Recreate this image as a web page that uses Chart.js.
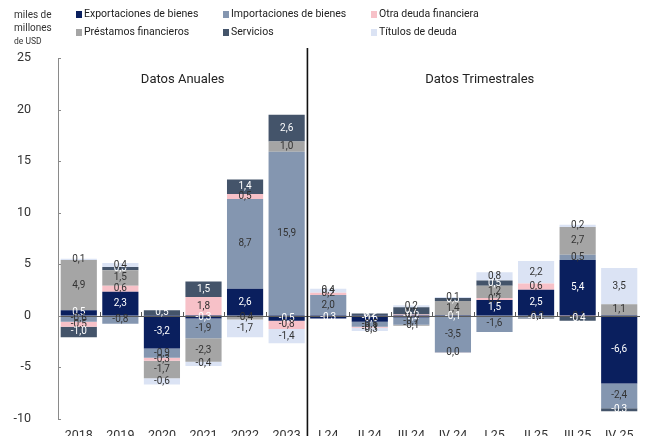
<!DOCTYPE html>
<html><head><meta charset="utf-8">
<script src="https://cdn.jsdelivr.net/npm/chart.js@4.4.1/dist/chart.umd.min.js"></script>
<style>
html,body{margin:0;padding:0;background:#fff;overflow:hidden;width:646px;height:436px;font-family:Roboto,sans-serif;}
#wrap{position:absolute;left:0;top:0;width:646px;height:453px;}
#ytitle{position:absolute;left:14px;top:8px;color:#333;font-size:10px;line-height:13px;}
#ytitle .s{font-size:8.5px;}
.li{position:absolute;font-size:10.5px;color:#222;white-space:nowrap;line-height:12px;}
.li i{position:absolute;left:-8px;top:3px;width:6px;height:7px;}
</style></head><body>
<div id="wrap"><canvas id="c" width="646" height="453"></canvas></div>
<div id="ytitle">miles de<br>millones<br><span class="s">de USD</span></div>
<div id="legend"></div>
<script>
const categories = ['2018','2019','2020','2021','2022','2023','I 24','II 24','III 24','IV 24','I 25','II 25','III 25','IV 25'];
const seriesNames = ['Exportaciones de bienes','Importaciones de bienes','Otra deuda financiera','Préstamos financieros','Servicios','Títulos de deuda'];
const exportaciones = [0.5, 2.3, -3.2, -0.3, 2.6, -0.5, -0.3, -0.6, -0.2, -0.1, 1.5, 2.5, 5.4, -6.6];
const importaciones = [-0.6, -0.8, -0.9, -1.9, 8.7, 15.9, 2.0, -0.5, -0.7, -3.5, -1.6, -0.2, 0.5, -2.4];
const otraDeuda     = [-0.5, 0.6, -0.3, 1.8, 0.5, -0.8, 0.2, -0.1, 0.1, -0.01, 0.2, 0.6, -0.1, null];
const prestamos     = [4.9, 1.5, -1.7, -2.3, -0.4, 1.0, null, null, -0.1, 1.4, 1.2, null, 2.7, 1.1];
const servicios     = [-1.0, 0.3, 0.5, 1.5, 1.4, 2.6, null, 0.2, 0.7, 0.3, 0.5, -0.1, -0.4, -0.3];
const titulos       = [0.1, 0.4, -0.6, -0.4, -1.7, -1.4, 0.4, -0.3, 0.2, 0.1, 0.8, 2.2, 0.2, 3.5];
const yTicks = [-10, -5, 0, 5, 10, 15, 20, 25];

const colors = ['#0a1f5e','#8496b0','#f7c1c8','#a5a5a5','#44546a','#dbe3f4'];
const labelColors = ['#ffffff','#333333','#333333','#333333','#ffffff','#333333'];
const allSeries = [exportaciones, importaciones, otraDeuda, prestamos, servicios, titulos];

// legend (HTML)
const legendPos = [[84,8],[231,8],[379,8],[84,26],[231,26],[379,26]];
const lg = document.getElementById('legend');
seriesNames.forEach((n,i)=>{
  const d = document.createElement('div');
  d.className='li'; d.style.left=legendPos[i][0]+'px'; d.style.top=legendPos[i][1]+'px';
  d.innerHTML = '<i style="background:'+colors[i]+'"></i>'+n;
  lg.appendChild(d);
});

function fmt(v){ return (Math.round(v*10)/10).toFixed(1).replace('.',','); }

const decor = {
  id:'decor',
  afterDatasetsDraw(chart){
    const ctx = chart.ctx, xs = chart.scales.x, ys = chart.scales.y, ca = chart.chartArea;
    const y0 = ys.getPixelForValue(0);
    ctx.save();
    ctx.strokeStyle = '#5a5a5a'; ctx.lineWidth = 1;
    ctx.beginPath(); ctx.moveTo(ca.left, Math.round(y0)+0.5); ctx.lineTo(ca.right, Math.round(y0)+0.5); ctx.stroke();
    for (let i=1;i<categories.length;i++){
      const x = Math.round((xs.getPixelForValue(i-1)+xs.getPixelForValue(i))/2)+0.5;
      ctx.beginPath(); ctx.moveTo(x, y0-3.5); ctx.lineTo(x, y0+1); ctx.stroke();
    }
    ctx.strokeStyle = '#8a8a8a';
    yTicks.forEach(t=>{
      const y = Math.round(ys.getPixelForValue(t))+0.5;
      ctx.beginPath(); ctx.moveTo(ca.left, y); ctx.lineTo(ca.left+3, y); ctx.stroke();
    });
    const sx = (xs.getPixelForValue(5)+xs.getPixelForValue(6))/2;
    ctx.strokeStyle = '#111'; ctx.lineWidth = 1.6;
    ctx.beginPath(); ctx.moveTo(sx, 48); ctx.lineTo(sx, chart.height); ctx.stroke();
    ctx.fillStyle = '#222'; ctx.font = '13px Roboto'; ctx.textAlign='center'; ctx.textBaseline='middle';
    ctx.fillText('Datos Anuales', (ca.left+sx)/2, 80);
    ctx.fillText('Datos Trimestrales', (xs.getPixelForValue(6)+xs.getPixelForValue(13))/2+6, 80);
    ctx.font = '10px Roboto';
    chart.data.datasets.forEach((ds,di)=>{
      const meta = chart.getDatasetMeta(di);
      meta.data.forEach((el,j)=>{
        const v = ds.data[j];
        if (v===null || v===undefined) return;
        ctx.fillStyle = labelColors[di];
        ctx.fillText(fmt(v), el.x, (el.y+el.base)/2);
      });
    });
    ctx.restore();
  }
};

new Chart(document.getElementById('c'), {
  type:'bar',
  data:{
    labels: categories,
    datasets: allSeries.map((d,i)=>({label:seriesNames[i], data:d, backgroundColor:colors[i], borderWidth:0, barPercentage:0.87, categoryPercentage:1}))
  },
  options:{
    responsive:false, animation:false,
    layout:{padding:{top:58,right:6,left:0,bottom:0}},
    plugins:{legend:{display:false}, tooltip:{enabled:false}},
    scales:{
      x:{stacked:true, grid:{display:false, drawTicks:false}, border:{display:false},
         ticks:{font:{family:'Roboto',size:12.5}, color:'#333', padding:10, maxRotation:0, autoSkip:false},
         afterFit(s){ s.height = 31; }},
      y:{stacked:true, min:-10, max:25,
         afterBuildTicks(s){ s.ticks = yTicks.map(v=>({value:v})); },
         ticks:{font:{family:'Roboto',size:12.5}, color:'#333', padding:27},
         grid:{display:false, drawTicks:false}, border:{display:true, color:'#8a8a8a', width:1},
         afterFit(s){ s.width = 58; }}
    }
  },
  plugins:[decor]
});
</script>
</body></html>
